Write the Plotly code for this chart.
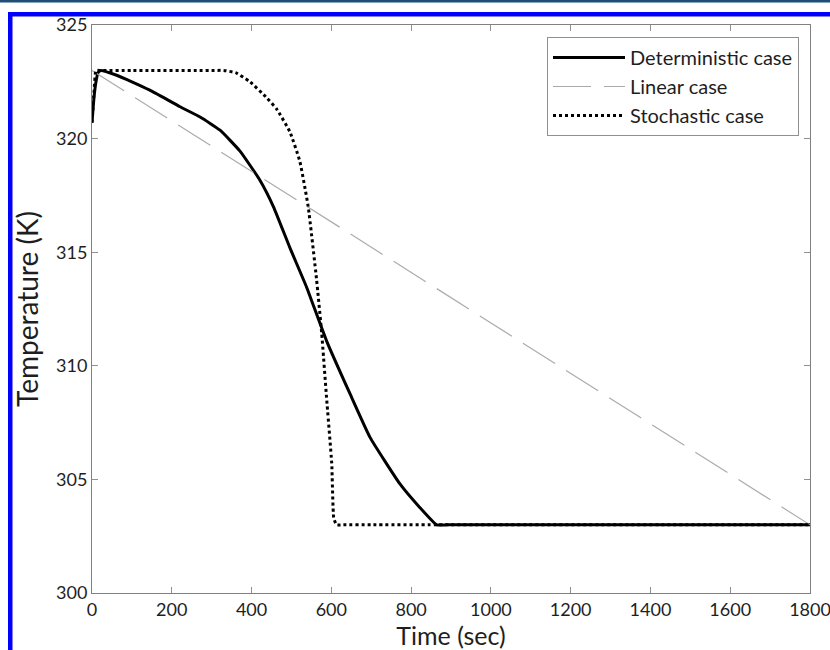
import plotly.graph_objects as go

# Time (sec) and temperature (K)
det_t = [0, 5, 10, 15, 22, 60, 100, 145, 221, 271, 321, 371, 421, 455, 496, 538, 588, 647, 697, 772, 820, 864, 890, 1000, 1800]
det_T = [320.7, 321.8, 322.5, 322.9, 323.0, 322.8, 322.5, 322.13, 321.4, 320.95, 320.37, 319.45, 318.17, 317.0, 315.2, 313.46, 311.1, 308.76, 306.85, 304.8, 303.8, 303.0, 303.0, 303.0, 303.0]

lin_t = [0, 1800]
lin_T = [323.0, 303.0]

sto_t = [0, 5, 10, 20, 100, 300, 330, 360, 396, 438, 463, 496, 521, 542, 563, 576, 588, 601, 606, 613, 630, 700, 864, 1800]
sto_T = [320.7, 322.0, 323.0, 323.0, 323.0, 323.0, 323.0, 322.9, 322.5, 321.8, 321.3, 320.3, 319.0, 317.0, 313.8, 311.4, 308.6, 305.7, 303.3, 303.0, 303.0, 303.0, 303.0, 303.0]

x_ticks = [0, 200, 400, 600, 800, 1000, 1200, 1400, 1600, 1800]
y_ticks = [300, 305, 310, 315, 320, 325]

FONT = "Lato"
TXT = "#1e1e1e"

fig = go.Figure()
fig.add_trace(go.Scatter(x=det_t, y=det_T, mode="lines", name="Deterministic case",
                         line=dict(color="black", width=3, shape="spline", smoothing=0.4)))
fig.add_trace(go.Scatter(x=lin_t, y=lin_T, mode="lines", name="Linear case",
                         line=dict(color="#ababab", width=1.2, dash="38px,13px")))
fig.add_trace(go.Scatter(x=sto_t, y=sto_T, mode="lines", name="Stochastic case",
                         line=dict(color="black", width=3, dash="dot", shape="spline", smoothing=0.4)))

L, R, T, B = 92, 20, 25, 57
W, H = 830, 650
pw, ph = W - L - R, H - T - B

def px(x):
    return (x - L) / pw

def py(y):
    return (H - B - y) / ph

shapes = [
    dict(type="rect", xref="paper", yref="paper", x0=px(-5), x1=px(840), y0=py(0), y1=py(2.5),
         fillcolor="#1f4e79", line=dict(width=0), layer="above"),
    dict(type="rect", xref="paper", yref="paper", x0=px(8), x1=px(840), y0=py(12), y1=py(16.5),
         fillcolor="#0000ff", line=dict(width=0), layer="above"),
    dict(type="rect", xref="paper", yref="paper", x0=px(8), x1=px(12.5), y0=py(660), y1=py(12),
         fillcolor="#0000ff", line=dict(width=0), layer="above"),
]

axis_common = dict(showgrid=False, zeroline=False, showline=True, linecolor="#808080",
                   linewidth=1, mirror="ticks", ticks="inside", ticklen=6, tickcolor="#909090",
                   automargin=False, ticklabeloverflow="allow",
                   tickfont=dict(family=FONT, size=18, color=TXT))

fig.update_layout(
    width=W, height=H,
    margin=dict(l=L, r=R, t=T, b=B, autoexpand=False),
    plot_bgcolor="white", paper_bgcolor="white",
    showlegend=True,
    legend=dict(x=px(547), y=py(37), xanchor="left", yanchor="top",
                bgcolor="white", bordercolor="#909090", borderwidth=1,
                font=dict(family=FONT, size=20, color=TXT), itemwidth=72,
                tracegroupgap=0),
    xaxis=dict(range=[0, 1800], tickvals=x_ticks, ticktext=[str(v) for v in x_ticks],
               title=dict(text="Time (sec)", font=dict(family=FONT, size=25, color=TXT), standoff=0),
               **axis_common),
    yaxis=dict(range=[300, 325], tickvals=y_ticks, ticktext=[str(v) for v in y_ticks],
               title=dict(text="Temperature (K)", font=dict(family=FONT, size=28, color=TXT), standoff=9),
               **axis_common),
    shapes=shapes,
)

fig.write_html("out.html")
